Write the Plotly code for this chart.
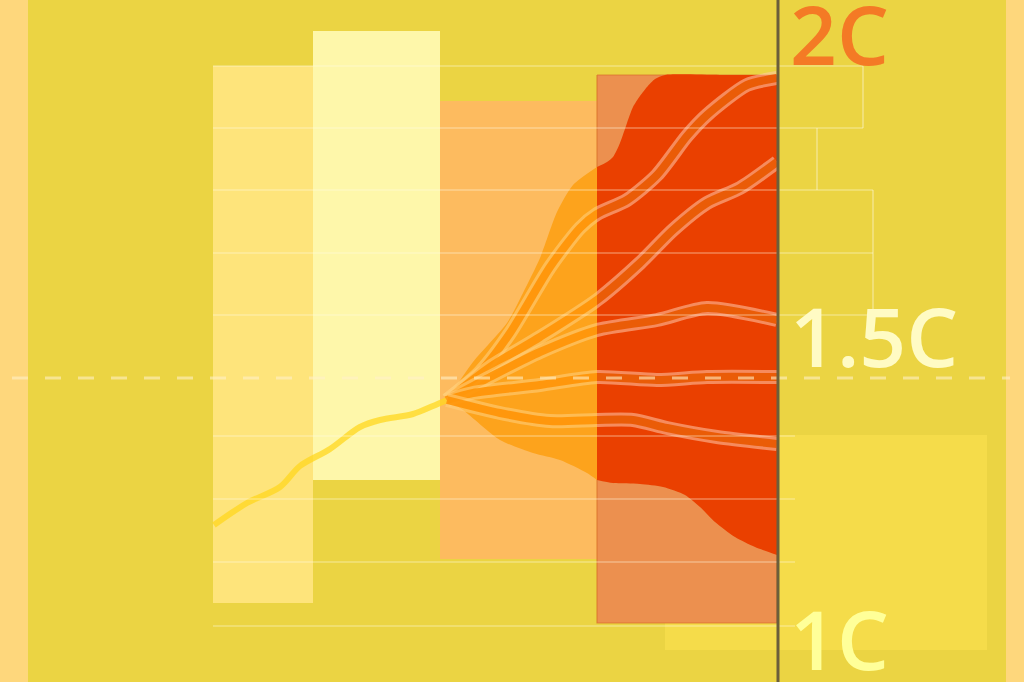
import plotly.graph_objects as go

# ---------------- data ----------------
strip_color = "#FED77C"
main_bg_x = [28, 1006]
main_bg_color = "#EBD443"

# range boxes (x0, x1, y0, y1)
box_x0 = [665, 213, 313, 440, 597]
box_x1 = [987, 313, 440, 597, 777]
box_y0 = [435, 66, 31, 101, 75]
box_y1 = [650, 603, 480, 559, 623]
box_colors = ["#F5DC4A", "#FEE47B", "#FEF7AA", "#FDBB5F", "#EC904F"]

# horizontal gridlines
grid_y = [66, 128, 190, 253, 315, 436, 499, 562, 626]
grid_right = [863, 863, 873, 873, 873, 795, 795, 795, 795]
grid_left = 213
# bracket connectors (x, y0, y1)
bracket_x = [863, 817, 873]
bracket_y0 = [66, 128, 190]
bracket_y1 = [128, 190, 315]

# 1.5C dashed reference
ref_y = 378
ref_x = [12, 1010]

# observed (historical) warming path
hist_x = [214, 247, 280, 300, 330, 360, 380, 413, 433, 447]
hist_y = [525, 503, 487, 466, 449, 427, 420, 414, 406, 400]

# orange fan envelope (near term)
fan_up_x = [447, 473, 507, 523, 540, 557, 573, 597]
fan_up_y = [400, 362, 323, 293, 258, 212, 185, 167]
fan_lo_x = [447, 463, 500, 533, 560, 587, 597]
fan_lo_y = [400, 410, 440, 453, 460, 473, 480]

# red envelope (long term)
red_up_x = [597, 607, 613, 620, 627, 633, 640, 647, 655, 665, 720, 777]
red_up_y = [167, 162, 157, 143, 123, 107, 96, 87, 79, 75, 75, 75]
red_lo_x = [597, 613, 640, 663, 685, 700, 715, 735, 755, 777]
red_lo_y = [480, 483, 484, 487, 495, 507, 522, 537, 547, 555]

# scenario pathways
path_x = [
    [447, 480, 510, 550, 580, 597, 627, 657, 687, 707, 747, 777],
    [447, 490, 540, 597, 640, 673, 707, 740, 777],
    [447, 490, 540, 597, 657, 707, 777],
    [447, 473, 540, 597, 657, 707, 777],
    [447, 500, 550, 597, 633, 667, 717, 777],
]
path_y = [
    [400, 372, 333, 267, 228, 214, 200, 175, 136, 115, 85, 78],
    [400, 367, 337, 300, 263, 230, 203, 188, 162],
    [400, 377, 352, 330, 320, 308, 320],
    [400, 393, 385, 377, 380, 377, 377],
    [400, 413, 421, 420, 420, 428, 437, 444],
]

# "now" divider
divider_x = 778
near_term_x = [0, 597]
long_term_x = [597, 777]

# labels
label_text = ["2C", "1.5C", "1C"]
label_y = [33, 335, 638]
label_colors = ["#F47A25", "#FFFBC4", "#FFFF99"]
label_x = 788

W, H = 1024, 682

# ---------------- figure ----------------
fig = go.Figure()

def rect_trace(x0, x1, y0, y1, color, line=None, xa="x"):
    return go.Scatter(x=[x0, x1, x1, x0, x0], y=[y0, y0, y1, y1, y0],
                      mode="lines", fill="toself", fillcolor=color,
                      line=line or dict(width=0), hoverinfo="skip", xaxis=xa)

fig.add_trace(rect_trace(main_bg_x[0], main_bg_x[1], 0, H, main_bg_color))
for i in range(len(box_x0)):
    line = dict(width=1.2, color="rgba(215,110,40,0.7)") if i == 4 else None
    fig.add_trace(rect_trace(box_x0[i], box_x1[i], box_y0[i], box_y1[i],
                             box_colors[i], line))

sp = dict(shape="spline", smoothing=0.7)
# orange fan
fig.add_trace(go.Scatter(x=fan_lo_x, y=fan_lo_y, mode="lines",
                         line=dict(width=0, **sp), hoverinfo="skip"))
fig.add_trace(go.Scatter(x=fan_up_x, y=fan_up_y, mode="lines", fill="tonexty",
                         fillcolor="#FDA31C", line=dict(width=0, **sp),
                         hoverinfo="skip"))
# red envelope
fig.add_trace(go.Scatter(x=red_lo_x, y=red_lo_y, mode="lines",
                         line=dict(width=0, **sp), hoverinfo="skip"))
fig.add_trace(go.Scatter(x=red_up_x, y=red_up_y, mode="lines", fill="tonexty",
                         fillcolor="#EA4000", line=dict(width=0, **sp),
                         hoverinfo="skip"))

# historical path
fig.add_trace(go.Scatter(x=hist_x, y=hist_y, mode="lines",
                         line=dict(color="rgba(255,215,30,0.75)", width=6,
                                   shape="spline", smoothing=0.9),
                         hoverinfo="skip"))

# scenario pathways, near-term part (clipped by x2) and long-term part (x3)
styles = {
    "x2": ("rgba(255,205,120,0.6)", "rgba(255,145,0,0.85)"),
    "x3": ("rgba(255,200,170,0.55)", "rgba(232,88,0,0.92)"),
}
for xa in ["x2", "x3"]:
    edge_c, core_c = styles[xa]
    for px, py in zip(path_x, path_y):
        fig.add_trace(go.Scatter(x=px, y=py, mode="lines", xaxis=xa,
                                 line=dict(color=edge_c, width=14, **sp),
                                 hoverinfo="skip"))
        fig.add_trace(go.Scatter(x=px, y=py, mode="lines", xaxis=xa,
                                 line=dict(color=core_c, width=8, **sp),
                                 hoverinfo="skip"))

# overlay layer: gridlines, dashed reference, divider
gx, gy = [], []
for yv, xr in zip(grid_y, grid_right):
    gx += [grid_left, xr, None]
    gy += [yv, yv, None]
for bx, b0, b1 in zip(bracket_x, bracket_y0, bracket_y1):
    gx += [bx, bx, None]
    gy += [b0, b1, None]
fig.add_trace(go.Scatter(x=gx, y=gy, mode="lines", xaxis="x4",
                         line=dict(color="rgba(255,250,230,0.55)", width=1.2),
                         hoverinfo="skip"))
fig.add_trace(go.Scatter(x=ref_x, y=[ref_y, ref_y], mode="lines", xaxis="x4",
                         line=dict(color="rgba(255,240,200,0.6)", width=3,
                                   dash="16px,17px"),
                         hoverinfo="skip"))
fig.add_trace(go.Scatter(x=[divider_x, divider_x], y=[0, H], mode="lines",
                         xaxis="x4", line=dict(color="#6B5E3B", width=3),
                         hoverinfo="skip"))

for t, yv, c in zip(label_text, label_y, label_colors):
    fig.add_annotation(x=label_x, y=yv, text=t, showarrow=False,
                       xanchor="left", yanchor="middle", xref="x", yref="y",
                       font=dict(family="Open Sans", size=82, color=c,
                                 weight=600))

hidden = dict(visible=False, fixedrange=True)
fig.update_layout(
    width=W, height=H, margin=dict(l=0, r=0, t=0, b=0),
    paper_bgcolor=strip_color, plot_bgcolor="rgba(0,0,0,0)", showlegend=False,
    xaxis=dict(range=[0, W], domain=[0, 1], **hidden),
    xaxis2=dict(range=near_term_x, domain=[near_term_x[0] / W, near_term_x[1] / W],
                anchor="y", **hidden),
    xaxis3=dict(range=long_term_x, domain=[long_term_x[0] / W, long_term_x[1] / W],
                anchor="y", **hidden),
    xaxis4=dict(range=[0, W], domain=[0, 1], anchor="y", **hidden),
    yaxis=dict(range=[H, 0], **hidden),
)

fig.write_html("out.html", config={"displayModeBar": False},
               post_script="document.body.style.margin='0';")
